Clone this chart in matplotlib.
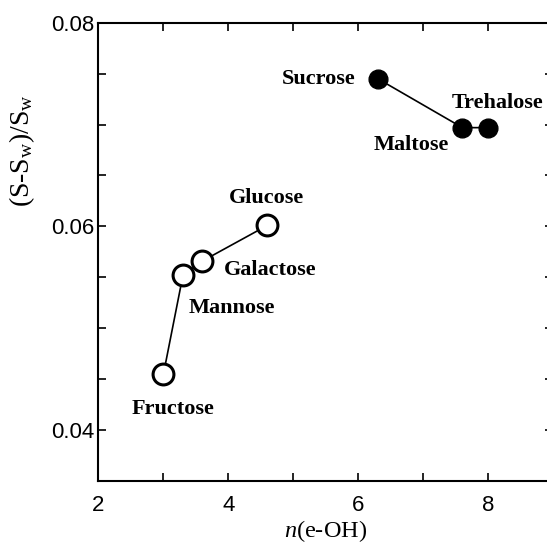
import matplotlib
matplotlib.use("Agg")
import matplotlib.pyplot as plt
from matplotlib.ticker import MultipleLocator

names_mono = ["Fructose", "Mannose", "Galactose", "Glucose"]
x_mono = [3.0, 3.3, 3.6, 4.6]
y_mono = [0.0455, 0.0552, 0.0566, 0.0601]

names_di = ["Sucrose", "Maltose", "Trehalose"]
x_di = [6.3, 7.6, 8.0]
y_di = [0.0745, 0.0697, 0.0697]

xticks = [2, 4, 6, 8]
yticks = [0.04, 0.06, 0.08]
yticklabels = ["0.04", "0.06", "0.08"]

# label anchor positions (left/right edge, center) in data coordinates
label_pos = {
    "Fructose": (2.515, 0.0421, "left"),
    "Mannose": (3.385, 0.0520, "left"),
    "Galactose": (3.93, 0.0557, "left"),
    "Glucose": (4.0, 0.0628, "left"),
    "Sucrose": (5.95, 0.0745, "right"),
    "Maltose": (6.23, 0.0680, "left"),
    "Trehalose": (7.44, 0.0721, "left"),
}

plt.rcParams['mathtext.fontset'] = 'custom'
plt.rcParams['mathtext.rm'] = 'Liberation Serif'
plt.rcParams['mathtext.it'] = 'Liberation Serif:italic'

fig = plt.figure(figsize=(5.47, 5.43), dpi=100)
ax = fig.add_axes([0.180, 0.1145, 1.0117 - 0.180, 0.958 - 0.1145])

ax.plot(x_mono, y_mono, '-', color='black', lw=1.2, zorder=2)
ax.plot(x_mono, y_mono, 'o', ms=15, mfc='white', mec='black', mew=2.2, zorder=3)
ax.plot(x_di, y_di, '-', color='black', lw=1.2, zorder=2)
ax.plot(x_di, y_di, 'o', ms=13.5, mfc='black', mec='black', zorder=3)

for n in names_mono + names_di:
    x, y, ha = label_pos[n]
    ax.text(x, y, n, ha=ha, va='center', fontsize=16, fontweight='bold',
            family='Liberation Serif', color='black')

ax.set_xlim(2, 9)
ax.set_ylim(0.035, 0.08)
ax.set_xticks(xticks)
ax.set_yticks(yticks)
ax.set_yticklabels(yticklabels)
ax.xaxis.set_minor_locator(MultipleLocator(1))
ax.yaxis.set_minor_locator(MultipleLocator(0.005))
ax.tick_params(which='both', direction='in', top=True, right=True,
               length=6, width=1.2)
for lab in ax.get_xticklabels() + ax.get_yticklabels():
    lab.set_family('Liberation Sans')
    lab.set_fontsize(16)
ax.tick_params(axis='x', pad=10)
ax.tick_params(axis='y', pad=3)
for s in ax.spines.values():
    s.set_linewidth(1.5)

ax.set_xlabel(r"$\mathit{n}$(e-OH)", fontsize=17.5, family='Liberation Serif')
ax.xaxis.set_label_coords(0.5, -0.082)
ax.set_ylabel(r"(S-S$_{\mathrm{w}}$)/S$_{\mathrm{w}}$", fontsize=20,
              family='Liberation Serif')
ax.yaxis.set_label_coords(-0.135, 0.72)

fig.savefig("out.png", dpi=100)
